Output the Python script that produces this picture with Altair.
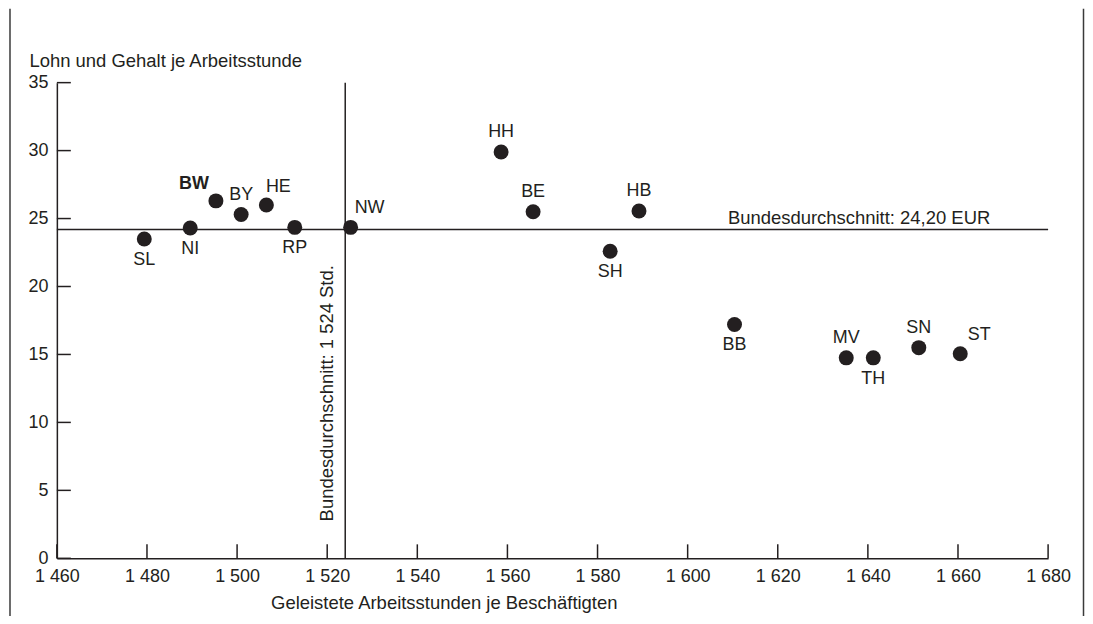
import altair as alt
import pandas as pd

# ---------------- data ----------------
laender = ["SL", "NI", "BW", "BY", "HE", "RP", "NW", "HH", "BE", "HB", "SH", "BB", "MV", "TH", "SN", "ST"]
stunden = [1479.4, 1489.6, 1495.3, 1500.9, 1506.5, 1512.8, 1525.2, 1558.6, 1565.7, 1589.2, 1582.8, 1610.4, 1635.2, 1641.2, 1651.3, 1660.5]
lohn = [23.5, 24.3, 26.3, 25.3, 26.0, 24.35, 24.35, 29.9, 25.5, 25.55, 22.6, 17.2, 14.75, 14.75, 15.5, 15.05]
platzierung = ["unten", "unten", "oben-links", "oben", "oben-rechts-knapp", "unten", "oben-rechts",
               "oben", "oben", "oben", "unten", "unten", "oben", "unten", "oben", "oben-rechts"]
hervorgehoben = ["BW"]

x_ticks = list(range(1460, 1681, 20))
y_ticks = list(range(0, 36, 5))
x_bereich = [1460, 1680]
y_bereich = [0, 35]

schnitt_stunden = 1524
schnitt_lohn = 24.2
text_schnitt_lohn = "Bundesdurchschnitt: 24,20 EUR"
text_schnitt_stunden = "Bundesdurchschnitt: 1 524 Std."
x_titel = "Geleistete Arbeitsstunden je Beschäftigten"
y_titel = "Lohn und Gehalt je Arbeitsstunde"

# ---------------- layout / style ----------------
W, H = 994, 477
INK = "#231f20"
FONT = "Liberation Sans"
offsets = {
    "oben": (0, -20),
    "unten": (0, 21),
    "oben-rechts": (19, -19),
    "oben-rechts-knapp": (12, -18),
    "oben-links": (-22, -17),
}

df = pd.DataFrame({
    "land": laender,
    "stunden": stunden,
    "lohn": lohn,
})

xs = alt.Scale(domain=x_bereich, nice=False, zero=False)
ys = alt.Scale(domain=y_bereich, nice=False, zero=False)

base = alt.Chart(df)

points = base.mark_circle(size=225, opacity=1, color=INK).encode(
    x=alt.X("stunden:Q", scale=xs, axis=alt.Axis(
        values=x_ticks, ticks=False, tickSize=0, grid=False,
        labelExpr="replace(format(datum.value, ','), ',', ' ')",
        labelFont=FONT, labelFontSize=18, labelColor=INK, labelPadding=9,
        labelFlush=False,
        domainColor=INK, domainWidth=1.5,
        title=x_titel, titleFont=FONT, titleFontSize=18.5, titleFontWeight="normal",
        titleColor=INK, titleX=388, titleY=44, titleAlign="center",
        titleBaseline="middle", titleAnchor="start",
    )),
    y=alt.Y("lohn:Q", scale=ys, axis=alt.Axis(
        values=y_ticks, ticks=False, tickSize=0, grid=False,
        labelFont=FONT, labelFontSize=18, labelColor=INK, labelPadding=9,
        labelFlush=False,
        domainColor=INK, domainWidth=1.5,
        title=y_titel, titleFont=FONT, titleFontSize=18.5, titleFontWeight="normal",
        titleColor=INK, titleAngle=0, titleX=-28, titleY=-22, titleAlign="left",
        titleBaseline="middle", titleAnchor="start",
    )),
)

label_layers = []
for platz, (dx, dy) in offsets.items():
    for fett in (False, True):
        sub = [l for l, p in zip(laender, platzierung) if p == platz and ((l in hervorgehoben) == fett)]
        if not sub:
            continue
        label_layers.append(
            base.transform_filter(alt.FieldOneOfPredicate(field="land", oneOf=sub)).mark_text(
                font=FONT, fontSize=18, color=INK, dx=dx, dy=dy,
                fontWeight="bold" if fett else "normal", baseline="middle", align="center",
            ).encode(x=alt.X("stunden:Q", scale=xs), y=alt.Y("lohn:Q", scale=ys), text="land:N")
        )

hline_df = pd.DataFrame({"y": [schnitt_lohn], "x": [x_bereich[0]], "x2": [x_bereich[1]], "t": [text_schnitt_lohn]})
vline_df = pd.DataFrame({"x": [schnitt_stunden], "y": [y_bereich[0]], "y2": [y_bereich[1]], "t": [text_schnitt_stunden]})

hline = alt.Chart(hline_df).mark_rule(color=INK, strokeWidth=1.5).encode(
    x=alt.X("x:Q", scale=xs), x2="x2:Q", y=alt.Y("y:Q", scale=ys))
vline = alt.Chart(vline_df).mark_rule(color=INK, strokeWidth=1.5).encode(
    x=alt.X("x:Q", scale=xs), y=alt.Y("y:Q", scale=ys), y2="y2:Q")

hlabel = alt.Chart(hline_df).mark_text(
    font=FONT, fontSize=18.5, color=INK, align="right", baseline="alphabetic", dx=-58, dy=-5
).encode(x=alt.X("x2:Q", scale=xs), y=alt.Y("y:Q", scale=ys), text="t:N")

vlabel = alt.Chart(vline_df).mark_text(
    font=FONT, fontSize=18.5, color=INK, align="left", baseline="alphabetic", angle=270, dx=37, dy=-12
).encode(x=alt.X("x:Q", scale=xs), y=alt.Y("y:Q", scale=ys), text="t:N")

xt = alt.Chart(pd.DataFrame({"v": x_ticks})).mark_rule(color=INK, strokeWidth=1.5).encode(
    x=alt.X("v:Q", scale=xs), y=alt.value(H), y2=alt.value(H - 14))
yt = alt.Chart(pd.DataFrame({"v": y_ticks})).mark_rule(color=INK, strokeWidth=1.5).encode(
    y=alt.Y("v:Q", scale=ys), x=alt.value(0), x2=alt.value(14))

frame_left = alt.Chart(pd.DataFrame({"a": [0]})).mark_rule(color="#3a3a3a", strokeWidth=1.5).encode(
    x=alt.value(-47), y=alt.value(-74), y2=alt.value(540))
frame_right = alt.Chart(pd.DataFrame({"a": [0]})).mark_rule(color="#3a3a3a", strokeWidth=1.5).encode(
    x=alt.value(1029.5), y=alt.value(-74), y2=alt.value(540))

chart = alt.layer(
    frame_left, frame_right, hline, vline, xt, yt, points, *label_layers, hlabel, vlabel
).properties(
    width=W, height=H,
    autosize=alt.AutoSizeParams(type="none"),
    padding={"left": 49, "top": 74, "right": 37, "bottom": 57},
    background="white",
).configure_view(stroke=None)

chart.save("out.html", embed_options={"renderer": "svg", "actions": False})
